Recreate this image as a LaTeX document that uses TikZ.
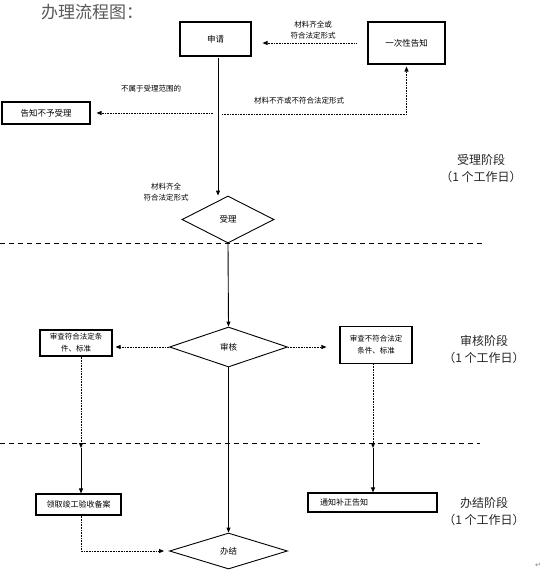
\documentclass[tikz,border=0pt]{standalone}
\usepackage{fontspec}
\newfontfamily\cjk{Noto Sans CJK SC}
\newfontfamily\dejavu{DejaVu Sans}
\usetikzlibrary{arrows.meta,shapes.geometric}
\begin{document}
\begin{tikzpicture}[x=1pt,y=-1pt,
  every node/.style={font=\cjk},
  box/.style={draw, line width=1.1pt, inner sep=0pt, align=center, font=\cjk\fontsize{8.5}{12}\selectfont},
  dia/.style={draw, diamond, line width=0.9pt, inner sep=0pt, font=\cjk\fontsize{8.5}{10}\selectfont},
  lbl/.style={inner sep=0pt, align=center, font=\cjk\fontsize{7.5}{11}\selectfont},
  stage/.style={inner sep=0pt, align=center, font=\cjk\fontsize{12}{17}\selectfont, text=black!85},
  arr/.style={line width=0.9pt, -{Triangle[length=5pt,width=4pt]}},
  dotarr/.style={line width=0.8pt, dash pattern=on 0.8pt off 0.8pt, -{Triangle[length=5pt,width=4pt]}},
  dotln/.style={line width=0.8pt, dash pattern=on 0.8pt off 0.8pt},
  sep/.style={line width=0.8pt, dash pattern=on 5pt off 4pt}
]
\useasboundingbox (0,0) rectangle (546,573);
\fill[white] (0,0) rectangle (546,573);

% title
\node[anchor=west, inner sep=0pt, text=black!65, font=\cjk\fontsize{17}{19}\selectfont] (title) at (41,12) {办理流程图：};

% boxes
\node[box, minimum width=71pt, minimum height=34pt] (shenqing) at (215.5,39) {申请};
\node[box, minimum width=77pt, minimum height=42pt] (yici) at (406.5,43) {一次性告知};
\node[box, minimum width=88pt, minimum height=22pt] (buyu) at (46,113) {告知不予受理};
\node[dia, minimum width=92pt, minimum height=47pt] (shouli) at (228,219.5) {受理};
\node[dia, minimum width=118pt, minimum height=40pt] (shenhe) at (228.5,347) {审核};
\node[box, minimum width=72pt, minimum height=26pt, font=\cjk\fontsize{7.5}{12}\selectfont] (fuhe) at (76,343) {审查符合法定条\\件、标准};
\node[box, minimum width=72pt, minimum height=37pt, font=\cjk\fontsize{7.5}{12}\selectfont] (bufuhe) at (376,345) {审查不符合法定\\条件、标准};
\node[box, minimum width=85pt, minimum height=21pt, font=\cjk\fontsize{8}{10}\selectfont] (lingqu) at (78.5,504.5) {领取竣工验收备案};
\node[box, minimum width=129pt, minimum height=19pt, font=\cjk\fontsize{8}{10}\selectfont, text width=105pt, align=left] (tongzhi) at (372.5,502.5) {通知补正告知};
\node[dia, minimum width=118pt, minimum height=36pt] (banjie) at (228.5,551) {办结};

% separators
\coordinate (s1a) at (0,243);
\coordinate (s1b) at (485,243);
\coordinate (s2a) at (0,443);
\coordinate (s2b) at (480,443);
\draw[sep] (s1a) -- (s1b);
\draw[sep] (s2a) -- (s2b);

% stage labels
\node[stage] (st1) at (481,168) {受理阶段\\（1 个工作日）};
\node[stage] (st2) at (484,349) {审核阶段\\（1 个工作日）};
\node[stage] (st3) at (484,511) {办结阶段\\（1 个工作日）};

% top connectors
\draw[dotarr, shorten <=11pt, shorten >=11pt] (yici.west) -- (shenqing.east |- yici.west);
\node[lbl] (l1) at (313,30) {材料齐全或\\符合法定形式};

\coordinate (sq) at (218,56);
\draw[arr, shorten <=2pt] (sq) -- (shouli.north -| sq);

\coordinate (j1) at (213,113);
\coordinate (j2) at (222,114);
\draw[dotarr, shorten >=6pt] (j1) -- (buyu.east |- j1);
\node[lbl] (l2) at (151,89) {不属于受理范围的};
\draw[dotarr, shorten >=2pt] (j2) -- (yici.south |- j2) -- (yici.south);
\node[lbl] (l3) at (299,101) {材料不齐或不符合法定形式};

\node[lbl] (l4) at (166,192) {材料齐全\\符合法定形式};

% middle
\draw[arr] (shouli.south) -- (shenhe.north);
\draw[dotarr, shorten >=3pt] (shenhe.west) -- (shenhe.west -| fuhe.east);
\draw[dotarr, shorten >=13pt] (shenhe.east) -- (shenhe.east -| bufuhe.west);

\coordinate (lk) at (81,448);
\coordinate (rk) at (373,448);
\draw[dotarr] (fuhe.south -| lk) -- (lk);
\draw[arr] (lk) -- (lingqu.north -| lk);
\draw[dotarr] (bufuhe.south -| rk) -- (rk);
\draw[arr] (rk) -- (tongzhi.north -| rk);

% bottom
\draw[arr] (shenhe.south) -- (banjie.north);
\draw[dotarr, shorten >=5pt] (lingqu.south -| lk) -- (lk |- banjie.west) -- (banjie.west);

\node[inner sep=0pt, text=black!50, font=\dejavu\fontsize{7}{8}\selectfont] (ret) at (538,565) {↵};
\end{tikzpicture}
\end{document}
